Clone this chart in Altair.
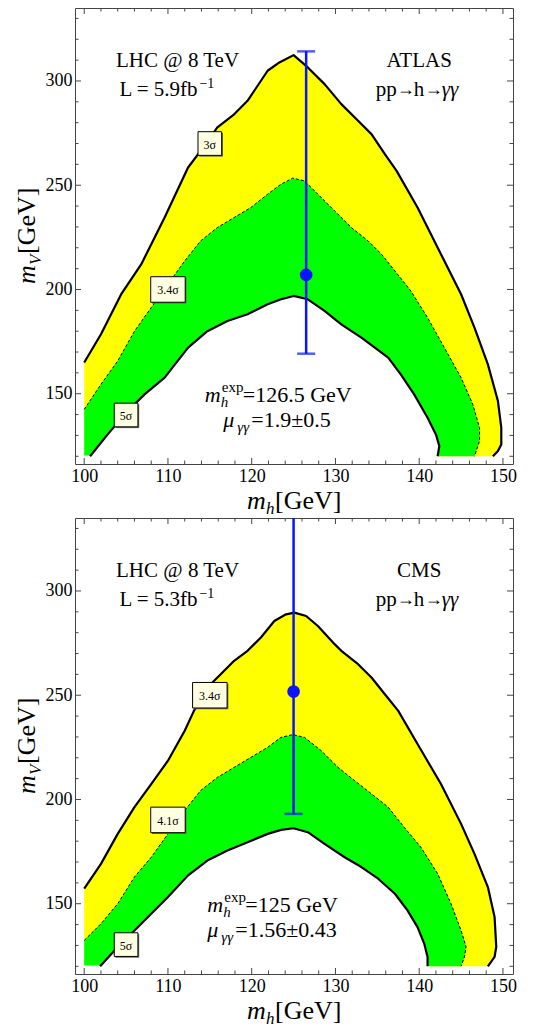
import altair as alt
import pandas as pd

# ---------------- data ----------------
X_DOMAIN = [98.9, 151.2]
Y_DOMAIN = [116.3, 335.0]
X_FLOOR, Y_FLOOR = 100, 120

x_label_values = [100, 110, 120, 130, 140, 150]
y_label_values = [150, 200, 250, 300]
x_major_ticks = [100, 110, 120, 130, 140, 150]
x_minor_ticks = [102, 104, 106, 108, 112, 114, 116, 118, 122, 124, 126, 128,
                 132, 134, 136, 138, 142, 144, 146, 148]
y_major_ticks = [150, 200, 250, 300]
y_minor_ticks = [120, 130, 140, 160, 170, 180, 190, 210, 220, 230, 240, 260,
                 270, 280, 290, 310, 320, 330]

# ATLAS panel contours
atlas_outer_x = [100, 102, 104.4, 106.8, 109.6, 112.4, 113.9, 115.9, 117.9, 119.5, 121.9, 123.3, 125,
                 126.7, 128.7, 130.7, 132.7, 134.3, 135.9, 137.3, 139.8, 142.6, 145, 146.6, 148.2,
                 149.4, 149.8, 149.8, 149.4, 148.8]
atlas_outer_y = [165, 178.5, 197.6, 212, 234.5, 258.5, 266.5, 277.7, 284, 290.5, 304.9, 308.9, 312.4,
                 306.5, 298.5, 288.9, 280.9, 274.5, 264.9, 256.9, 239.3, 216.9, 197.7, 181.7, 164.1,
                 146.5, 133.7, 125.7, 122.5, 120]
atlas_mid_x = [100, 102, 104, 106, 108, 110, 112, 113.9, 115.9, 117.9, 119.9, 121.9, 123.5, 124.9,
               126.3, 127.9, 129.9, 131.9, 133.9, 135.5, 137.1, 139, 141, 143, 145, 146.4, 147.2,
               147.2, 146.6]
atlas_mid_y = [142.5, 154.5, 165.7, 180, 191.3, 202.5, 213.7, 223.3, 229.7, 234.5, 239.3, 245.7, 250.5,
               253.4, 252.1, 245.7, 237.7, 229.7, 223.3, 216.9, 208.9, 199.3, 186.5, 172.1, 157.7,
               144.9, 133.7, 127.3, 120]
atlas_inner_x = [100.7, 102.8, 105.2, 107.2, 109.6, 112.4, 114.7, 117.1, 119.5, 121.9, 123.5, 125,
                 126.7, 128.7, 130.7, 133.1, 134.7, 136.3, 137.8, 139.4, 141, 142, 142.4, 142.2]
atlas_inner_y = [120, 130.5, 141.7, 149.7, 157.7, 172.1, 180, 184.9, 188.1, 192.9, 195.3, 196.9,
                 195.3, 189.7, 183.3, 176.9, 172.1, 167.3, 159.3, 149.7, 138.5, 130.5, 124.9, 120]
atlas_point = {"x": 126.5, "y": 207, "lo": 169.2, "hi": 314.2}
atlas_labels_x = [115, 110, 105]
atlas_labels_y = [270, 200, 139.8]
atlas_labels_t = ["3σ", "3.4σ", "5σ"]

# CMS panel contours
cms_outer_x = [100, 102, 104, 106, 108, 110, 112, 113.1, 114.7, 116.3, 117.9, 119.5, 121.1, 122.7,
               124.1, 125.1, 126.5, 127.9, 129.9, 130.7, 132.7, 134.3, 135.9, 137.5, 139.8, 142.6,
               145, 146.6, 148.2, 149, 149.2, 149, 148.2]
cms_outer_y = [157.2, 169.1, 183.5, 196.3, 207.4, 218.6, 233, 242.5, 253.7, 260.1, 266.5, 271.3,
               277.7, 285.6, 288.8, 289.6, 288, 283.2, 274.5, 271.3, 264.9, 258.5, 250.5, 242.5,
               226.6, 207.4, 188.3, 173.9, 158, 143.6, 129.3, 124.5, 120]
cms_mid_x = [100, 102, 104, 106, 108, 110, 112, 113.9, 115.9, 117.9, 119.9, 121.9, 123.5, 124.9,
             126.3, 128.3, 130.3, 132.3, 134.3, 136.3, 138.2, 140.2, 142.2, 143.8, 145, 145.6,
             145.4, 145]
cms_mid_y = [132.4, 140.4, 150, 162.8, 172.3, 183.5, 194.7, 204.3, 210.6, 215.4, 220.2, 225, 229.8,
             231.1, 229.8, 223.4, 215.4, 209, 202.7, 196.3, 186.7, 177.1, 164.4, 150, 137.2, 129.3,
             124.5, 120]
cms_inner_x = [101.9, 104, 106, 108, 110, 112.4, 114.7, 117.1, 119.5, 121.9, 123.5, 125, 126.7,
               128.7, 131.1, 133.1, 135.1, 137.1, 138.6, 139.8, 140.6, 141, 141]
cms_inner_y = [120, 129.3, 137.2, 145.2, 153.2, 163.6, 170.7, 175.5, 179.5, 183.5, 185.4, 186.2,
               184.3, 178.7, 172.3, 167.6, 162, 154.8, 146.8, 138.8, 130.9, 124.5, 120]
cms_point = {"x": 125, "y": 251.8, "lo": 193.1, "hi": 420}
cms_labels_x = [115, 110, 105]
cms_labels_y = [250, 190.2, 130.4]
cms_labels_t = ["3.4σ", "4.1σ", "5σ"]

# ---------------- style ----------------
FONT = "Liberation Serif"
W, H = 438, 456
YELLOW, GREEN, BLUE = "#ffff00", "#00ff00", "#0a14ff"

xs = alt.Scale(domain=X_DOMAIN, nice=False, zero=False)
ys = alt.Scale(domain=Y_DOMAIN, nice=False, zero=False)
x_axis = alt.Axis(values=x_label_values, format="d", ticks=False, domain=False, grid=False,
                  labelFont=FONT, labelFontSize=18, labelColor="black", labelPadding=3,
                  labelFlush=False, labelOverlap=False, title=None)
y_axis = alt.Axis(values=y_label_values, format="d", ticks=False, domain=False, grid=False,
                  labelFont=FONT, labelFontSize=18, labelColor="black", labelPadding=3,
                  labelOverlap=False, title=None)


def X(field):
    return alt.X(f"{field}:Q", scale=xs, axis=x_axis)


def Y(field):
    return alt.Y(f"{field}:Q", scale=ys, axis=y_axis)


def curve_df(xv, yv, close):
    rows = [{"x": a, "y": b, "i": k} for k, (a, b) in enumerate(zip(xv, yv))]
    if close:
        rows.append({"x": X_FLOOR, "y": Y_FLOOR, "i": len(rows)})
    return pd.DataFrame(rows)


def fill_poly(xv, yv, color, edge=0):
    return alt.Chart(curve_df(xv, yv, True)).mark_line(
        fill=color, stroke=color, strokeWidth=edge, interpolate="linear"
    ).encode(x=X("x"), y=Y("y"), order=alt.Order("i:Q"))


def stroke_curve(xv, yv, width, dash=None):
    kw = dict(color="black", strokeWidth=width, interpolate="linear", strokeJoin="round")
    if dash:
        kw["strokeDash"] = dash
    return alt.Chart(curve_df(xv, yv, False)).mark_line(**kw).encode(
        x=X("x"), y=Y("y"), order=alt.Order("i:Q"))


def ticks_layers():
    out = []
    for vals, ln in ((x_major_ticks, 6), (x_minor_ticks, 3.5)):
        d = pd.DataFrame({"v": vals})
        out.append(alt.Chart(d).mark_rule(color="#444", strokeWidth=1).encode(
            x=X("v"), y=alt.value(H), y2=alt.value(H - ln)))
        out.append(alt.Chart(d).mark_rule(color="#444", strokeWidth=1).encode(
            x=X("v"), y=alt.value(0), y2=alt.value(ln)))
    for vals, ln in ((y_major_ticks, 6), (y_minor_ticks, 3.5)):
        d = pd.DataFrame({"v": vals})
        out.append(alt.Chart(d).mark_rule(color="#444", strokeWidth=1).encode(
            y=Y("v"), x=alt.value(0), x2=alt.value(ln)))
        out.append(alt.Chart(d).mark_rule(color="#444", strokeWidth=1).encode(
            y=Y("v"), x=alt.value(W), x2=alt.value(W - ln)))
    return out


def piece(x, y, text, dx=0, dy=0, size=21, style="normal", align="left"):
    d = pd.DataFrame({"x": [x], "y": [y], "t": [text]})
    return alt.Chart(d).mark_text(font=FONT, fontSize=size, fontStyle=style, align=align,
                                  baseline="alphabetic", dx=dx, dy=dy, color="black").encode(
        x=X("x"), y=Y("y"), text="t:N")


def fixed_piece(px, py, text, dx=0, dy=0, size=26, style="normal", angle=0):
    d = pd.DataFrame({"t": [text]})
    kw = dict(font=FONT, fontSize=size, fontStyle=style, align="left", baseline="alphabetic",
              dx=dx, dy=dy, color="black")
    if angle:
        kw["angle"] = angle
    return alt.Chart(d).mark_text(**kw).encode(x=alt.value(px), y=alt.value(py), text="t:N")


def label_boxes(lx, ly, lt):
    d = pd.DataFrame({"x": lx, "y": ly, "t": lt, "wide": [len(s) > 2 for s in lt]})
    out = []
    for wide, path, size in ((False, "M-1,-1L1,-1L1,1L-1,1Z", 560),
                             (True, "M-1,-0.74L1,-0.74L1,0.74L-1,0.74Z", 1190)):
        sub = d[d["wide"] == wide]
        out.append(alt.Chart(sub).mark_point(shape=path, size=size, filled=True, fill="#666666",
                                             strokeWidth=0, opacity=1, xOffset=1.3, yOffset=1.3).encode(
            x=X("x"), y=Y("y")))
        out.append(alt.Chart(sub).mark_point(shape=path, size=size, filled=True, fill="#ffffe2",
                                             stroke="black", strokeWidth=1, opacity=1).encode(
            x=X("x"), y=Y("y")))
    out.append(alt.Chart(d).mark_text(font=FONT, fontSize=12, align="center", baseline="middle",
                                      color="black", dy=1).encode(x=X("x"), y=Y("y"), text="t:N"))
    return out


def process_text(x0, y0):
    # "pp → h → γγ" set piece by piece so the arrows stay compact
    return [
        piece(x0, y0, "pp"),
        piece(x0, y0, "→", dx=21, dy=-1, size=18),
        piece(x0, y0, "h", dx=38),
        piece(x0, y0, "→", dx=49, dy=-1, size=18),
        piece(x0, y0, "γγ", dx=66, style="italic"),
    ]


def panel(ox, oy, mx, my, ix, iy, pt, lab, experiment, lumi, mh_text, mu_text, mh_x, mu_x, clip_top):
    layers = [
        fill_poly(ox, oy, YELLOW),
        fill_poly(mx, my, GREEN),
        fill_poly(ix, iy, "white", edge=1.6),
        stroke_curve(ox, oy, 2.2),
        stroke_curve(mx, my, 1, dash=[3, 2]),
        stroke_curve(ix, iy, 2.2),
    ]
    pdf = pd.DataFrame([pt])
    layers.append(alt.Chart(pdf).mark_rule(color=BLUE, strokeWidth=2.5, clip=True).encode(
        x=X("x"), y=Y("lo"), y2=alt.Y2("hi")))
    layers.append(alt.Chart(pdf).mark_tick(color=BLUE, orient="horizontal", size=18,
                                           thickness=2.5).encode(x=X("x"), y=Y("lo")))
    if not clip_top:
        layers.append(alt.Chart(pdf).mark_tick(color=BLUE, orient="horizontal", size=18,
                                               thickness=2.5).encode(x=X("x"), y=Y("hi")))
    layers.append(alt.Chart(pdf).mark_circle(color=BLUE, size=160, opacity=1).encode(
        x=X("x"), y=Y("y")))
    layers += label_boxes(*lab)
    # annotations
    layers += [
        piece(103.8, 306.5, "LHC @ 8 TeV"),
        piece(104.2, 293.0, "L = " + lumi + "fb"),
        piece(104.2, 293.0, "−1", dx=80, dy=-8, size=14),
        piece(140.0, 306.5, experiment, align="center"),
    ]
    layers += process_text(134.8, 293.0)
    layers += [
        piece(mh_x, 146.0, "m", size=22, style="italic"),
        piece(mh_x, 146.0, "exp", dx=17, dy=-10, size=15),
        piece(mh_x, 146.0, "h", dx=16, dy=5, size=15, style="italic"),
        piece(mh_x, 146.0, mh_text, dx=38, size=22),
        piece(mu_x, 134.0, "μ", size=22, style="italic"),
        piece(mu_x, 134.0, "γγ", dx=14, dy=5, size=15, style="italic"),
        piece(mu_x, 134.0, mu_text, dx=28, size=22),
    ]
    # axis titles
    layers += [
        fixed_piece(172, H + 45, "m", style="italic"),
        fixed_piece(172, H + 45, "h", dx=19, dy=5, size=17, style="italic"),
        fixed_piece(172, H + 45, "[GeV]", dx=28),
        fixed_piece(-40, H / 2 + 48, "m", style="italic", angle=270),
        fixed_piece(-40, H / 2 + 48, "V", dx=19, dy=6, size=17, style="italic", angle=270),
        fixed_piece(-40, H / 2 + 48, "[GeV]", dx=30, angle=270),
    ]
    layers += ticks_layers()
    return alt.layer(*layers).properties(width=W, height=H)


top = panel(atlas_outer_x, atlas_outer_y, atlas_mid_x, atlas_mid_y, atlas_inner_x, atlas_inner_y,
            atlas_point, (atlas_labels_x, atlas_labels_y, atlas_labels_t),
            "ATLAS", "5.9", "=126.5 GeV", "=1.9±0.5", 114.4, 116.6, False)
bottom = panel(cms_outer_x, cms_outer_y, cms_mid_x, cms_mid_y, cms_inner_x, cms_inner_y,
               cms_point, (cms_labels_x, cms_labels_y, cms_labels_t),
               "CMS", "5.3", "=125 GeV", "=1.56±0.43", 114.7, 114.7, True)

chart = alt.vconcat(top, bottom, spacing=-1).properties(
    padding={"left": 13, "top": 7, "right": 5, "bottom": 0},
    background="white",
).configure_view(stroke="#444", strokeWidth=1)

chart.save("out.html", embed_options={"renderer": "svg", "actions": False})
